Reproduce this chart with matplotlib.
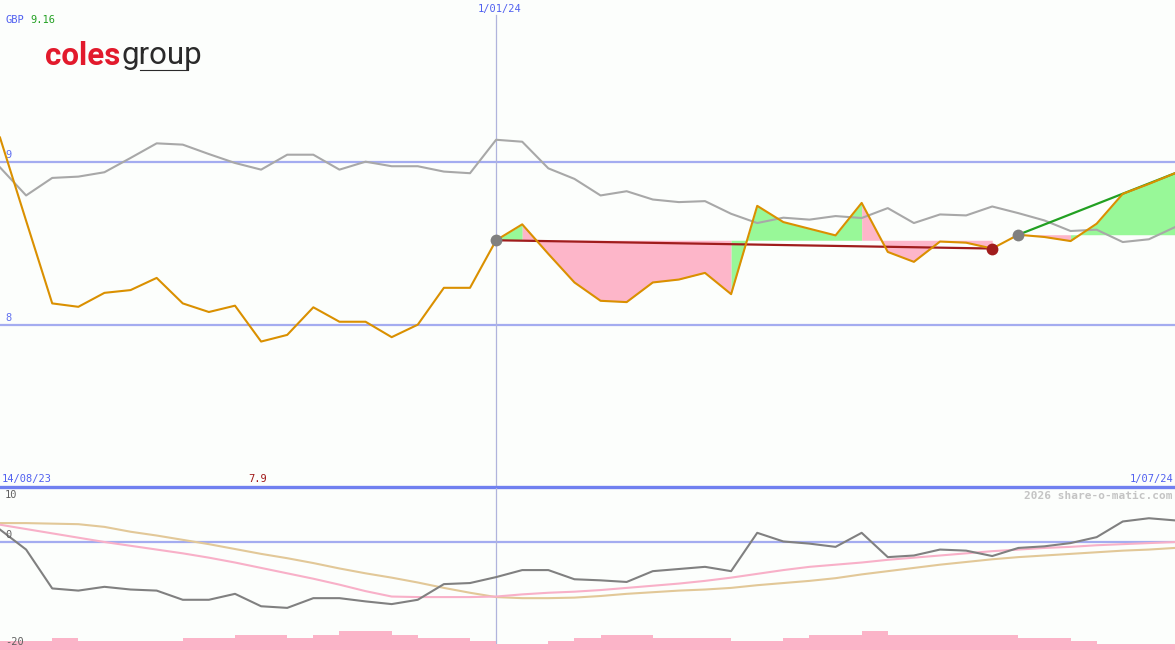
import matplotlib
matplotlib.use('Agg')
import matplotlib.pyplot as plt
from matplotlib.lines import Line2D

# ── weekly data, 14/08/23 .. 1/07/24 (46 weeks) ─────────────
price = [9.153, 8.64, 8.131, 8.110, 8.196, 8.213, 8.288, 8.131, 8.078, 8.117,
         7.896, 7.937, 8.107, 8.018, 8.018, 7.923, 8.000, 8.227, 8.227, 8.520,
         8.618, 8.436, 8.260, 8.147, 8.139, 8.260, 8.278, 8.319, 8.188, 8.732,
         8.632, 8.591, 8.550, 8.750, 8.448, 8.387, 8.512, 8.505, 8.469, 8.554,
         8.540, 8.515, 8.622, 8.806, 8.867, 8.933]

# grey comparison line (main panel)
index_line = [8.969, 8.796, 8.904, 8.912, 8.939, 9.027, 9.117, 9.109, 9.051, 8.996,
              8.955, 9.047, 9.047, 8.955, 9.004, 8.976, 8.976, 8.943, 8.933, 9.139,
              9.127, 8.963, 8.898, 8.796, 8.822, 8.771, 8.755, 8.761, 8.683, 8.626,
              8.659, 8.647, 8.669, 8.657, 8.718, 8.626, 8.679, 8.673, 8.728, 8.687,
              8.642, 8.577, 8.585, 8.509, 8.526, 8.601]

# lower panel oscillators
momentum = [2.3, -1.4, -8.6, -9.0, -8.3, -8.8, -9.0, -10.7, -10.7, -9.6,
            -11.9, -12.2, -10.4, -10.4, -11.0, -11.5, -10.7, -7.8, -7.6, -6.5,
            -5.2, -5.2, -6.9, -7.1, -7.4, -5.4, -5.0, -4.6, -5.4, 1.7,
            0.1, -0.3, -0.9, 1.7, -2.8, -2.5, -1.4, -1.6, -2.6, -1.1,
            -0.8, -0.2, 0.9, 3.8, 4.4, 4.0]
mom_fast = [3.2, 2.4, 1.6, 0.8, 0.0, -0.7, -1.4, -2.1, -2.9, -3.8,
            -4.8, -5.8, -6.8, -7.9, -9.1, -10.1, -10.2, -10.2, -10.2, -10.1,
            -9.7, -9.4, -9.2, -8.9, -8.5, -8.1, -7.7, -7.2, -6.6, -5.9,
            -5.2, -4.6, -4.2, -3.8, -3.3, -2.9, -2.5, -2.1, -1.7, -1.4,
            -1.1, -0.9, -0.6, -0.4, -0.2, 0.0]
mom_slow = [3.5, 3.5, 3.4, 3.3, 2.8, 1.9, 1.2, 0.4, -0.4, -1.3,
            -2.2, -3.0, -3.9, -4.9, -5.8, -6.6, -7.5, -8.5, -9.4, -10.2,
            -10.4, -10.4, -10.3, -10.0, -9.6, -9.3, -9.0, -8.8, -8.5, -8.0,
            -7.6, -7.2, -6.7, -6.0, -5.4, -4.8, -4.2, -3.7, -3.2, -2.8,
            -2.5, -2.2, -1.9, -1.6, -1.4, -1.1]

# weekly volume (millions)
volume = [3, 3, 4, 3, 3, 3, 3, 4, 4, 5,
          5, 4, 5, 6.3, 6.3, 5, 4, 4, 3, 2,
          2, 3, 4, 5, 5, 4, 4, 4, 3, 3,
          4, 5, 5, 6.3, 5, 5, 5, 5, 5, 4,
          4, 3, 2, 2, 2]

# buy / sell index pairs
trades = [(19, 38), (39, 45)]
year_mark = 19
low_idx = 10

W, H = 1175, 650
BG = '#fcfefc'
GRID = '#a4acf0'
MONO = 'DejaVu Sans Mono'
GAIN, LOSS = '#98f898', '#fdb6c9'

fig = plt.figure(figsize=(W / 100, H / 100), dpi=100, facecolor=BG)
ax = fig.add_axes([0, 1 - 487 / H, 1, 487 / H])
ax2 = fig.add_axes([0, 0, 1, 162 / H])
for a in (ax, ax2):
    a.set_axis_off()
    a.set_facecolor(BG)
    a.set_xlim(0, len(price) - 1)
ax.set_ylim(7.0, 10.0)
ax2.set_ylim(-20, 10)

x = list(range(len(price)))

# ── main panel ──────────────────────────────────────────────
for lvl in (8, 9):
    ax.axhline(lvl, color=GRID, lw=1.6, zorder=0.5)
ax.axhline(7.0, color='#7080f0', lw=2.4, zorder=6, clip_on=False)
ax.axvline(year_mark, ymax=1 - 15 / 487, color='#b0b4dc', lw=0.9, zorder=0.6)

# profit / loss shading against the entry price; a week takes the colour
# of its closing price, runs of the same colour are filled in one go
for s, e in trades:
    base = price[s]
    cols = [GAIN if price[i + 1] >= base else LOSS for i in range(s, e)]
    a = s
    for i in range(s, e):
        if i + 1 == e or cols[i + 1 - s] != cols[i - s]:
            ax.fill_between(x[a:i + 2], price[a:i + 2], base, color=cols[i - s],
                            lw=0, zorder=1)
            a = i + 1

ax.plot(x, index_line, color='#a8a8a8', lw=1.5, zorder=2)

for s, e in trades:
    won = price[e] >= price[s]
    col = '#22a022' if won else '#a01c1c'
    ax.plot([s, e], [price[s], price[e]], color=col, lw=1.6, zorder=3)

ax.plot(x, price, color='#da9000', lw=1.5, zorder=4)

for s, e in trades:
    ax.plot(s, price[s], 'o', color='#808080', ms=8.5, mec='none', zorder=5)
    if price[e] < price[s]:
        ax.plot(e, price[e], 'o', color='#a01c1c', ms=8.5, mec='none', zorder=5)

ax.text(0.2, 9.0 + 0.012, '9', color='#6070f0', fontsize=7.5, family=MONO, va='bottom')
ax.text(0.2, 8.0 + 0.012, '8', color='#6070f0', fontsize=7.5, family=MONO, va='bottom')

# ── lower panel ─────────────────────────────────────────────
vol_scale = 3 / 5.4
ax2.bar(range(len(volume)), [v * vol_scale for v in volume], width=1, align='edge',
        bottom=-20, color='#fbb4c8', lw=0, antialiased=False, zorder=1)
ax2.axhline(0, color=GRID, lw=1.6, zorder=0.5)
ax2.axvline(year_mark, color='#b0b4dc', lw=0.9, zorder=0.6)
ax2.plot(x, mom_slow, color='#e2c898', lw=1.5, zorder=2)
ax2.plot(x, mom_fast, color='#f8b0c8', lw=1.5, zorder=2)
ax2.plot(x, momentum, color='#808080', lw=1.5, zorder=3)


# ── texts (pixel positions from top-left) ───────────────────
def fxy(px, py):
    return px / W, 1 - py / H


def label(px, py, s, color, ha='left', size=7.5, weight='normal'):
    fig.text(*fxy(px, py), s, color=color, ha=ha, va='center', fontsize=size,
             family=MONO, weight=weight)


label(5, 20, 'GBP', '#5060f0')
label(30, 20, '9.16', '#22a022')
label(500, 9, '1/01/24', '#5060f0', ha='center')
label(2, 479, '14/08/23', '#5060f0')
label(low_idx * W / (len(price) - 1) - 3, 479, '7.9', '#a01818', ha='center')
label(1173, 479, '1/07/24', '#5060f0', ha='right')
label(1173, 496, '2026 share-o-matic.com', '#c4c4c4', ha='right', size=8, weight='bold')
label(5, 495, '10', '#606060')
label(5, 535, '0', '#606060')
label(5, 642, '-20', '#606060')

# logo
t1 = fig.text(*fxy(45, 56), 'coles', color='#e21a2c', fontsize=22.5, family='Roboto',
              weight='bold', va='center', ha='left')
fig.canvas.draw()
bb = t1.get_window_extent()
fig.text(bb.x1 / W + 0.001, fxy(0, 56)[1], 'group', color='#2a2a2a', fontsize=22.5,
         family='Roboto', weight='normal', va='center', ha='left')
fig.lines.append(Line2D([140 / W, 188 / W], [1 - 70 / H, 1 - 70 / H],
                        transform=fig.transFigure, color='#2a2a2a', lw=0.8))

fig.savefig('out.png', dpi=100, facecolor=BG)
